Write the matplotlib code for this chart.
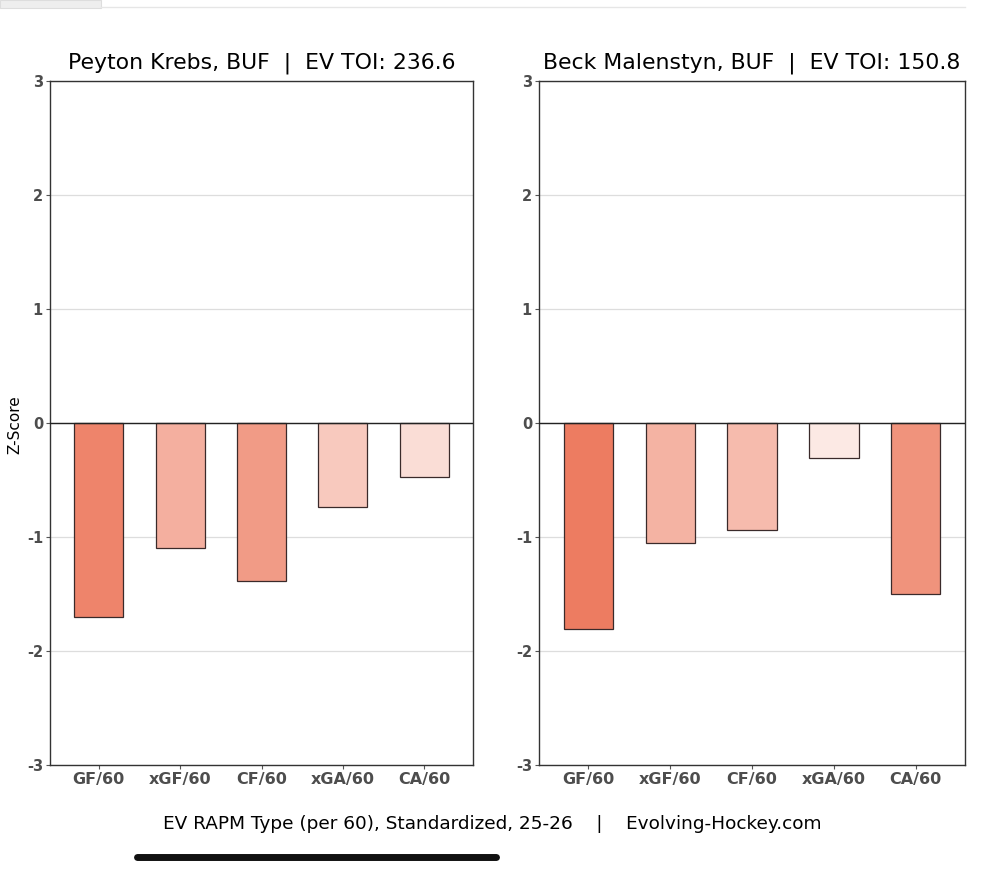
import matplotlib
matplotlib.use("Agg")
import matplotlib.pyplot as plt
from matplotlib.colors import LinearSegmentedColormap, Normalize
from matplotlib.patches import Rectangle
import numpy as np

plt.rcParams['axes.unicode_minus'] = False

# Data
metrics = ['GF/60', 'xGF/60', 'CF/60', 'xGA/60', 'CA/60']
krebs_vals = [-1.70, -1.10, -1.39, -0.74, -0.47]
malenstyn_vals = [-1.81, -1.05, -0.94, -0.31, -1.50]
titles = ['Peyton Krebs, BUF  |  EV TOI: 236.6', 'Beck Malenstyn, BUF  |  EV TOI: 150.8']
footer = 'EV RAPM Type (per 60), Standardized, 25-26    |    Evolving-Hockey.com'

cmap = LinearSegmentedColormap.from_list('reds', ['#ffffff', '#e9603f'])
norm = Normalize(0, 2.2)

fig = plt.figure(figsize=(10, 8.71), dpi=100)

positions = [[0.050, 0.1217, 0.423, 0.7853], [0.539, 0.1217, 0.426, 0.7853]]

for i, (vals, title) in enumerate(zip([krebs_vals, malenstyn_vals], titles)):
    ax = fig.add_axes(positions[i])
    x = np.arange(len(metrics))
    colors = [cmap(norm(abs(v))) for v in vals]
    ax.set_axisbelow(True)
    ax.grid(axis='y', color='#dddddd', linewidth=0.9)
    ax.bar(x, vals, width=0.6, color=colors, edgecolor='#3a2a2a', linewidth=0.9, zorder=3)
    ax.axhline(0, color='#222222', linewidth=1.0, zorder=4)
    ax.set_ylim(-3, 3)
    ax.set_xlim(-0.6, 4.6)
    ax.set_yticks([-3, -2, -1, 0, 1, 2, 3])
    ax.set_xticks(x)
    ax.set_xticklabels(metrics)
    for lab in ax.get_xticklabels() + ax.get_yticklabels():
        lab.set_fontweight('bold')
        lab.set_color('#4d4d4d')
    ax.tick_params(axis='x', labelsize=11.5, length=3, color='#555555', pad=2)
    ax.tick_params(axis='y', labelsize=10.5, length=3, color='#555555', pad=2)
    for s in ax.spines.values():
        s.set_color('#333333')
        s.set_linewidth(1.0)
    ax.set_title(title, fontsize=15.8, pad=9)

fig.text(0.015, 0.512, 'Z-Score', rotation=90, ha='center', va='center', fontsize=11)
fig.text(0.492, 0.054, footer, ha='center', va='center', fontsize=13.3)

# screenshot chrome
fig.patches.append(Rectangle((0, 0.991), 0.101, 0.009, transform=fig.transFigure,
                             facecolor='#eeeeee', edgecolor='#dddddd', linewidth=0.8))
fig.lines.append(plt.Line2D([0.101, 0.965], [0.9915, 0.9915], transform=fig.transFigure,
                            color='#e6e6e6', linewidth=1.0))
fig.lines.append(plt.Line2D([0.137, 0.496], [0.0155, 0.0155], transform=fig.transFigure,
                            color='#111111', linewidth=5, solid_capstyle='round'))

fig.savefig('out.png', dpi=100)
